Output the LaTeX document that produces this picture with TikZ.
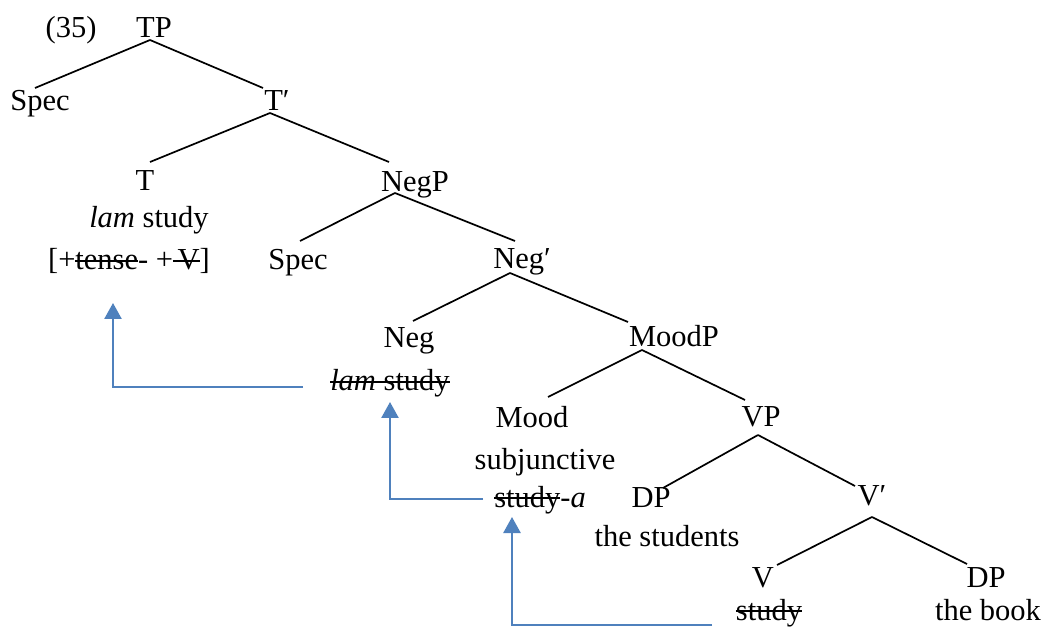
\documentclass[tikz,border=0pt]{standalone}
\usepackage{fontspec}
\setmainfont{Liberation Serif}
\usetikzlibrary{calc,arrows.meta}
\newcommand{\strk}[1]{\setbox0\hbox{#1}\rlap{\rule[0.27em]{\wd0}{0.065em}}\box0}
\definecolor{mvblue}{HTML}{4F81BD}
\begin{document}
\begin{tikzpicture}[x=1pt,y=-1pt,
  lbl/.style={inner sep=0pt, anchor=base, font=\fontsize{30.5}{36}\selectfont},
  edge/.style={line width=1.7pt},
  mv/.style={draw=mvblue, line width=2.5pt, -{Triangle[width=17pt,length=16pt]}}]
\useasboundingbox (0,0) rectangle (1045,628);
% labels
\node[lbl] (ex) at (71,38) {(35)};
\node[lbl] (TP) at (154,38) {TP};
\node[lbl] (Spec1) at (40,111) {Spec};
\node[lbl] (Tbar) at (277,111) {T′};
\node[lbl] (T) at (145,191) {T};
\node[lbl] (lamT) at (149,228) {\textit{lam} study};
\node[lbl] (feat) at (129,270) {[+\strk{tense}-\ +\strk{\hspace{0.15em}V}]};
\node[lbl] (NegP) at (415,192) {NegP};
\node[lbl] (Spec2) at (298,270) {Spec};
\node[lbl] (Negbar) at (522,269) {Neg′};
\node[lbl] (Neg) at (409,348) {Neg};
\node[lbl] (lamNeg) at (390,391) {\strk{\textit{lam} study}};
\node[lbl] (MoodP) at (674,347) {MoodP};
\node[lbl] (Mood) at (532,428) {Mood};
\node[lbl] (subj) at (545,469) {subjunctive};
\node[lbl] (studya) at (540,507) {\strk{study}-\textit{a}};
\node[lbl] (VP) at (761,427) {VP};
\node[lbl] (DP1) at (651,507) {DP};
\node[lbl] (students) at (667,546) {the students};
\node[lbl] (Vbar) at (872,505) {V′};
\node[lbl] (V) at (763,587) {V};
\node[lbl] (studyV) at (769,620) {\strk{study}};
\node[lbl] (DP2) at (986,587) {DP};
\node[lbl] (book) at (988,620) {the book};
% tree edges
\draw[edge] ($(TP.base)+(-4,2)$) -- ($(Spec1.base)+(-5,-23)$);
\draw[edge] ($(TP.base)+(-4,2)$) -- ($(Tbar.base)+(-14,-23)$);
\draw[edge] ($(Tbar.base)+(-7,2)$) -- ($(T.base)+(5,-29)$);
\draw[edge] ($(Tbar.base)+(-7,2)$) -- ($(NegP.base)+(-26,-30)$);
\draw[edge] ($(NegP.base)+(-20,1)$) -- ($(Spec2.base)+(2,-29)$);
\draw[edge] ($(NegP.base)+(-20,1)$) -- ($(Negbar.base)+(-7,-28)$);
\draw[edge] ($(Negbar.base)+(-12,4)$) -- ($(Neg.base)+(4,-27)$);
\draw[edge] ($(Negbar.base)+(-12,4)$) -- ($(MoodP.base)+(-46,-25)$);
\draw[edge] ($(MoodP.base)+(-32,3)$) -- ($(Mood.base)+(16,-31)$);
\draw[edge] ($(MoodP.base)+(-32,3)$) -- ($(VP.base)+(-16,-27)$);
\draw[edge] ($(VP.base)+(-3,8)$) -- ($(DP1.base)+(12,-19)$);
\draw[edge] ($(VP.base)+(-3,8)$) -- ($(Vbar.base)+(-17,-19)$);
\draw[edge] ($(Vbar.base)+(0,12)$) -- ($(V.base)+(14,-22)$);
\draw[edge] ($(Vbar.base)+(0,12)$) -- ($(DP2.base)+(-19,-23)$);
% movement arrows
\draw[mv] ($(lamNeg.base)+(-87,-4)$) -| ($(feat.base)+(-16,33)$);
\draw[mv] ($(studya.base)+(-57,-8)$) -| ($(lamNeg.base)+(0,11)$);
\draw[mv] ($(studyV.base)+(-57,5)$) -| ($(studya.base)+(-28,10)$);
\end{tikzpicture}
\end{document}
